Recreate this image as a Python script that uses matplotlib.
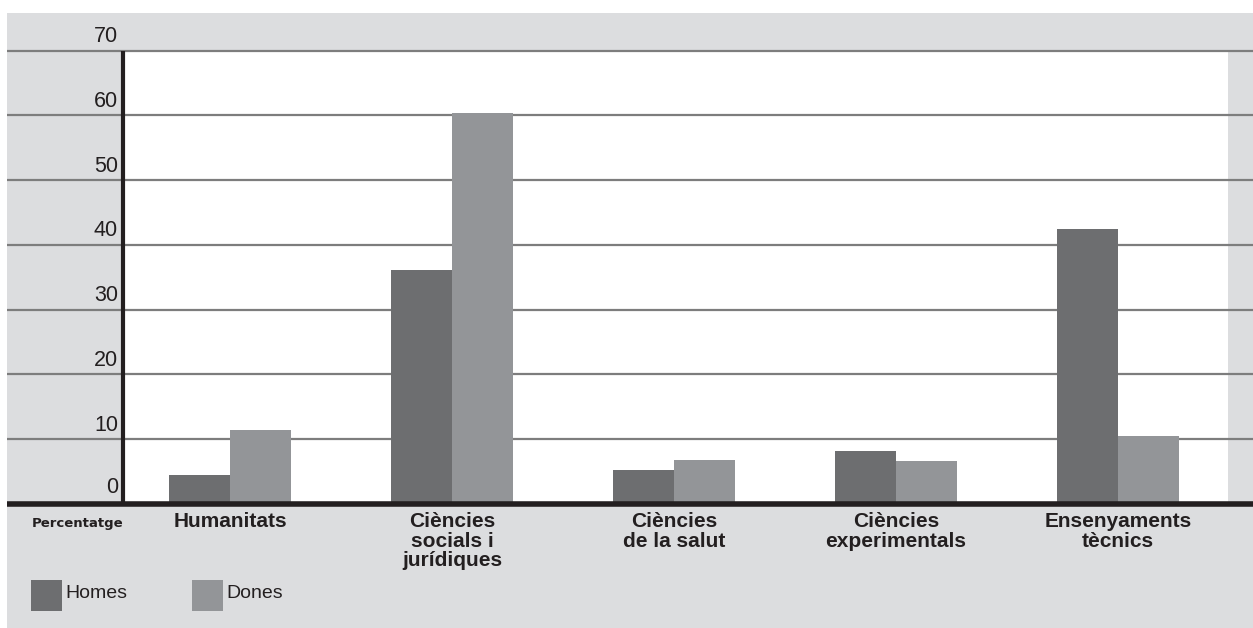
import matplotlib.pyplot as plt
from matplotlib.patches import Rectangle

# data
categories = ["Humanitats", "Ciències\nsocials i\njurídiques", "Ciències\nde la salut",
              "Ciències\nexperimentals", "Ensenyaments\ntècnics"]
homes = [4.5, 36.1, 5.2, 8.2, 42.5]
dones = [11.4, 60.3, 6.8, 6.6, 10.5]
yticks = [0, 10, 20, 30, 40, 50, 60, 70]
series_names = ["Homes", "Dones"]

# colours
c_homes = "#6d6e70"
c_dones = "#939598"
c_panel = "#dcdddf"
c_grid = "#7d7d7d"
c_axis = "#231f20"

W, H = 1253, 628
fig = plt.figure(figsize=(W / 100, H / 100), dpi=100, facecolor="white")

# pixel layout helpers (category 0 centred at px 230, 222 px between categories)
x0, step = 230.0, 222.0
y0, ppu = 504.0, 6.476   # pixel row of value 0, pixels per unit


def px(x):
    return (x - x0) / step


def py(y):
    return (y0 - y) / ppu


ax = fig.add_axes([7 / W, 0, (W - 7) / W, 1 - 13 / H])
ax.set_facecolor(c_panel)
ax.set_xlim(px(7), px(W))
ax.set_ylim(py(H), py(13))
for s in ax.spines.values():
    s.set_visible(False)
ax.set_xticks([])
ax.set_yticks([])

# white plotting area
ax.add_patch(Rectangle((px(123), 0), px(1228) - px(123), 70, facecolor="white",
                       edgecolor="none", zorder=1))

# gridlines run across the whole panel
for v in yticks[1:]:
    ax.axhline(v, color=c_grid, lw=1.6, zorder=2)
    ax.text(px(118), v + 0.55, str(v), ha="right", va="bottom", fontsize=15.5,
            family="Liberation Sans", color="#231f20", zorder=5)
ax.text(px(118), 0 + 0.9, "0", ha="right", va="bottom", fontsize=15.5,
        family="Liberation Sans", color="#231f20", zorder=5)

# bars
bw = 61 / step
xs = list(range(len(categories)))
ax.bar([x - bw / 2 for x in xs], homes, width=bw, color=c_homes, zorder=3)
ax.bar([x + bw / 2 for x in xs], dones, width=bw, color=c_dones, zorder=3)

# axes lines
ax.plot([px(123), px(123)], [0, 70], color=c_axis, lw=3, zorder=4,
        solid_capstyle="butt")
ax.axhline(0, color=c_axis, lw=4, zorder=4)

# category labels
for x, lab in zip(xs, categories):
    ax.text(x, py(512), lab, ha="center", va="top", fontsize=15, fontweight="bold",
            family="Liberation Sans", color="#231f20", linespacing=1.05)
ax.text(px(78), py(527), "Percentatge", ha="center", va="baseline", fontsize=9.5,
        fontweight="heavy", family="DejaVu Sans", color="#231f20")

# legend
for lx, col, name in [(31, c_homes, series_names[0]), (192, c_dones, series_names[1])]:
    fig.add_artist(Rectangle((lx / W, 1 - 611 / H), 31 / W, 31 / H,
                             transform=fig.transFigure, facecolor=col,
                             edgecolor="none"))
    fig.text((lx + 34) / W, 1 - 593 / H, name, ha="left", va="center", fontsize=14,
             family="Liberation Sans", color="#231f20")

fig.savefig("out.png", dpi=100, facecolor="white")
